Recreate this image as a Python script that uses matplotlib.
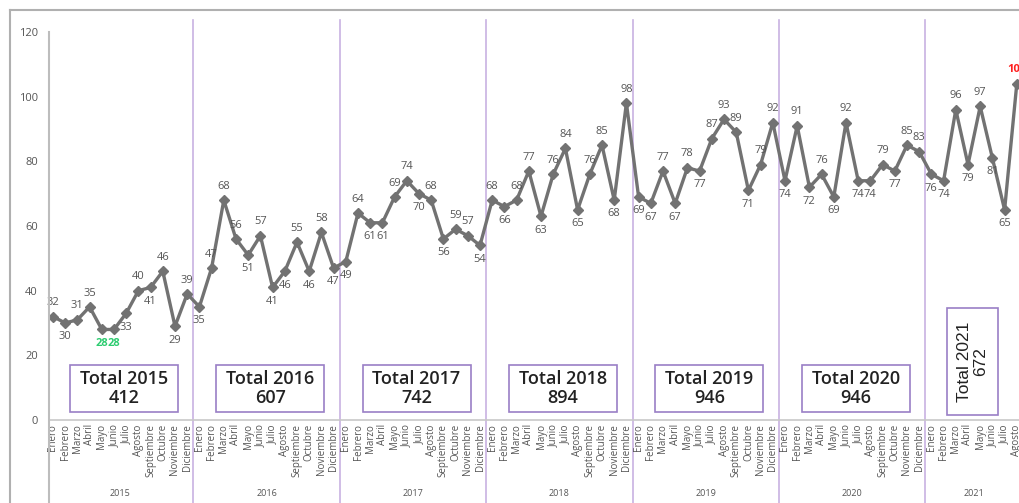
import matplotlib.pyplot as plt
from matplotlib.lines import Line2D
from matplotlib.patches import Rectangle

plt.rcParams['font.family'] = ['Open Sans', 'DejaVu Sans']

years = ['2015', '2016', '2017', '2018', '2019', '2020', '2021']
months = ['Enero', 'Febrero', 'Marzo', 'Abril', 'Mayo', 'Junio', 'Julio',
          'Agosto', 'Septiembre', 'Octubre', 'Noviembre', 'Diciembre']

v2015 = [32, 30, 31, 35, 28, 28, 33, 40, 41, 46, 29, 39]
v2016 = [35, 47, 68, 56, 51, 57, 41, 46, 55, 46, 58, 47]
v2017 = [49, 64, 61, 61, 69, 74, 70, 68, 56, 59, 57, 54]
v2018 = [68, 66, 68, 77, 63, 76, 84, 65, 76, 85, 68, 98]
v2019 = [69, 67, 77, 67, 78, 77, 87, 93, 89, 71, 79, 92]
v2020 = [74, 91, 72, 76, 69, 92, 74, 74, 79, 77, 85, 83]
v2021 = [76, 74, 96, 79, 97, 81, 65, 104]

series = [v2015, v2016, v2017, v2018, v2019, v2020, v2021]
totals = [sum(s) for s in series]

# where each value label goes: u = above the point, d = below
sides = ''.join([
    'uduuddduducu'.replace('c', 'd'),  # 2015
    'duuududdudud',                    # 2016
    'dudduududuud',                    # 2017
    'uduuduuduudu',                    # 2018
    'ddududuuuduu',                    # 2019
    'dudududduduu',                    # 2020
    'ddududdu',                        # 2021
])

values = [v for s in series for v in s]
labels = [m for s in series for m in months[:len(s)]]
x = list(range(len(values)))

fig = plt.figure(figsize=(10.19, 5.03), dpi=100)
W, H = 1019, 503
ax = fig.add_axes([49 / W, (H - 420) / H, (W - 49) / W, 400 / H])

step = 12.2
ax.set_xlim(-4 / step, (W - 53) / step)
ax.set_ylim(0, 120 * 400 / 388)

line_col = '#727272'
ax.plot(x, values, color=line_col, lw=2.4, marker='D', ms=5.5,
        mec=line_col, mfc=line_col, zorder=3, clip_on=False)

vmin, vmax = min(values), max(values)
for i, v in enumerate(values):
    up = sides[i] == 'u'
    col = '#555555'
    weight = 'normal'
    if v == vmin:
        col, weight = '#2ecc71', 'bold'
    elif v == vmax:
        col, weight = '#ff2020', 'bold'
    ax.annotate(str(v), (i, v), xytext=(0, 6 if up else -6),
                textcoords='offset points', ha='center',
                va='bottom' if up else 'top', fontsize=8, color=col,
                fontweight=weight, zorder=4, annotation_clip=False)

# year separators run down through the month labels
purple_line = '#c8b2e2'
for k in range(1, len(years)):
    ax.axvline(12 * k - 0.5, ymin=-0.21, ymax=1.0, color=purple_line,
               lw=1.2, clip_on=False, zorder=1)

# totals per year
box_col = '#9a7fc6'
for k, (yr, tot) in enumerate(zip(years, totals)):
    if yr == '2021':
        x0, x1 = 73.3, 77.5
        y0, y1 = 1.5, 34.6
        ax.add_patch(Rectangle((x0, y0), x1 - x0, y1 - y0, fill=True,
                               fc='white', ec=box_col, lw=1.2, zorder=2))
        ax.text((x0 + x1) / 2, (y0 + y1) / 2, f'Total {yr}\n{tot}',
                rotation=90, ha='center', va='center', fontsize=12.5,
                family='Liberation Sans', color='#222222', zorder=3,
                linespacing=1.1)
    else:
        cx = 12 * k + 5.5 + 0.3
        w, y0, y1 = 8.85, 2.5, 17.0
        ax.add_patch(Rectangle((cx - w / 2, y0), w, y1 - y0, fill=True,
                               fc='white', ec=box_col, lw=1.2, zorder=2))
        ax.text(cx, (y0 + y1) / 2, f'Total {yr}\n{tot}', ha='center',
                va='center', fontsize=13, color='#222222', zorder=3,
                fontweight='semibold', linespacing=1.1)

ax.set_xticks(x)
ax.set_xticklabels(labels, rotation=90, fontsize=7, color='#555555')
ax.set_yticks(range(0, 121, 20))
ax.tick_params(axis='y', labelsize=8, colors='#555555', length=0, pad=8)
ax.tick_params(axis='x', length=0, pad=3)

for s in ['top', 'right', 'left']:
    ax.spines[s].set_visible(False)
ax.spines['bottom'].set_color('#c8c8c8')
ax.spines['bottom'].set_linewidth(1.2)

# y axis line from the 120 mark down to the bottom edge
fig.add_artist(Line2D([49 / W, 49 / W], [0, (H - 32) / H], color='#bdbdbd',
                      lw=1.5))

for k, yr in enumerate(years):
    n = len(series[k])
    cx = 12 * k + (n - 1) / 2
    xf = (53 + cx * step) / W
    fig.text(xf, (H - 493) / H, yr, ha='center', va='center', fontsize=6.5,
             color='#555555')

# outer frame
fig.add_artist(Line2D([10 / W, 1], [(H - 10) / H, (H - 10) / H],
                      color='#b0b0b0', lw=1.5))
fig.add_artist(Line2D([10 / W, 10 / W], [0, (H - 10) / H],
                      color='#b0b0b0', lw=1.5))

fig.savefig('out.png', dpi=100)
